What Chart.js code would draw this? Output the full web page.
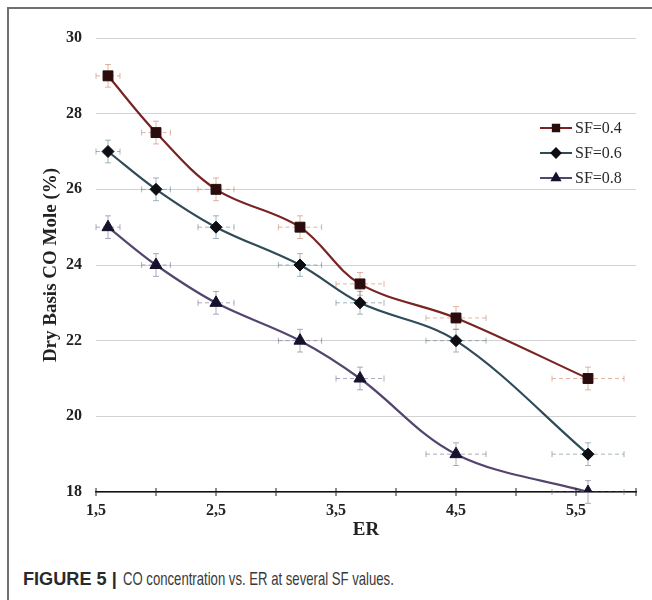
<!DOCTYPE html>
<html>
<head>
<meta charset="utf-8">
<script src="https://cdn.jsdelivr.net/npm/chart.js@4.4.1/dist/chart.umd.min.js"></script>
<style>
  html, body { margin: 0; padding: 0; background: #fff; }
  #frame {
    position: absolute; left: 7px; top: 7px; width: 660px; height: 600px;
    border-top: 2px solid #6f6f6f; border-left: 2px solid #6f6f6f;
  }
  #wrap { position: absolute; left: 0; top: 0; width: 652px; height: 545px; }
  .cap {
    position: absolute; top: 568px; white-space: nowrap;
    font-family: "Liberation Sans", Arial, sans-serif; font-size: 18.5px;
    transform-origin: left top;
  }
  #capHead { left: 23px; font-weight: bold; color: #2a2a2a; transform: scaleX(0.98); }
  #capText { left: 123px; color: #3a3a3a; transform: scaleX(0.71); }
</style>
</head>
<body>
<div id="frame"></div>
<div id="wrap"><canvas id="coChart"></canvas></div>
<div class="cap" id="capHead">FIGURE 5 |</div>
<div class="cap" id="capText">CO concentration vs. ER at several SF values.</div>

<script>
// equivalence ratio values used for each run
const er = [1.6, 2.0, 2.5, 3.2, 3.7, 4.5, 5.6];
// CO mole % (dry basis) per steam factor
const sf04 = [29, 27.5, 26, 25, 23.5, 22.6, 21];
const sf06 = [27, 26, 25, 24, 23, 22, 19];
const sf08 = [25, 24, 23, 22, 21, 19, 18];
const seriesLabels = ["SF=0.4", "SF=0.6", "SF=0.8"];
// error bar half-widths
const erErr = [0.1, 0.12, 0.15, 0.18, 0.2, 0.25, 0.3];
const coErr = 0.3;

const toPoints = ys => er.map((x, i) => ({ x: x, y: ys[i] }));

const serif = "'Liberation Serif', 'Times New Roman', serif";

// dashed horizontal + small vertical error bars under each marker
const errorBars = {
  id: "errorBars",
  beforeDatasetsDraw(chart) {
    const { ctx, scales: { x, y } } = chart;
    chart.data.datasets.forEach(ds => {
      ctx.save();
      ctx.strokeStyle = ds.errColor;
      ctx.lineWidth = 1;
      ds.data.forEach((p, i) => {
        const px = x.getPixelForValue(p.x);
        const py = y.getPixelForValue(p.y);
        const x0 = x.getPixelForValue(p.x - erErr[i]);
        const x1 = x.getPixelForValue(p.x + erErr[i]);
        const y0 = y.getPixelForValue(p.y + coErr);
        const y1 = y.getPixelForValue(p.y - coErr);
        ctx.setLineDash([4, 3]);
        ctx.beginPath();
        ctx.moveTo(x0, py); ctx.lineTo(x1, py);
        ctx.stroke();
        ctx.setLineDash([]);
        ctx.beginPath();
        ctx.moveTo(x0, py - 3); ctx.lineTo(x0, py + 3);
        ctx.moveTo(x1, py - 3); ctx.lineTo(x1, py + 3);
        ctx.moveTo(px, y0); ctx.lineTo(px, y1);
        ctx.moveTo(px - 3, y0); ctx.lineTo(px + 3, y0);
        ctx.moveTo(px - 3, y1); ctx.lineTo(px + 3, y1);
        ctx.stroke();
      });
      ctx.restore();
    });
  },
  afterDraw(chart) {
    // tick marks crossing the x axis line
    const { ctx, scales: { x }, chartArea } = chart;
    ctx.save();
    ctx.strokeStyle = "#222";
    ctx.lineWidth = 1;
    x.ticks.forEach(t => {
      const px = x.getPixelForValue(t.value);
      ctx.beginPath();
      ctx.moveTo(px, chartArea.bottom - 4);
      ctx.lineTo(px, chartArea.bottom + 4);
      ctx.stroke();
    });
    ctx.restore();
  }
};

// legend with a short line through the marker
const lineLegend = {
  id: "lineLegend",
  afterDraw(chart) {
    const ctx = chart.ctx;
    const left = 540, top = 128, step = 25;
    chart.data.datasets.forEach((ds, i) => {
      const yy = top + i * step;
      ctx.save();
      ctx.strokeStyle = ds.borderColor;
      ctx.lineWidth = 2;
      ctx.beginPath();
      ctx.moveTo(left, yy); ctx.lineTo(left + 32, yy);
      ctx.stroke();
      ctx.fillStyle = ds.pointBackgroundColor;
      ctx.strokeStyle = ds.pointBackgroundColor;
      Chart.helpers.drawPoint(ctx, {
        pointStyle: ds.pointStyle, radius: 4.5, borderWidth: 1
      }, left + 16, yy);
      ctx.fillStyle = "#2a2a2a";
      ctx.font = "16px " + serif;
      ctx.textBaseline = "middle";
      ctx.fillText(ds.label, left + 35, yy + 1);
      ctx.restore();
    });
  }
};

new Chart("coChart", {
  type: "line",
  data: {
    datasets: [
      {
        label: seriesLabels[0], data: toPoints(sf04),
        borderColor: "#7a2323", errColor: "rgba(200,120,90,0.55)",
        pointStyle: "rect", pointRadius: 7,
        pointBackgroundColor: "#2a0c0c", pointBorderColor: "#2a0c0c"
      },
      {
        label: seriesLabels[1], data: toPoints(sf06),
        borderColor: "#2f4b57", errColor: "rgba(90,120,140,0.55)",
        pointStyle: "rectRot", pointRadius: 6,
        pointBackgroundColor: "#0d0d14", pointBorderColor: "#0d0d14"
      },
      {
        label: seriesLabels[2], data: toPoints(sf08),
        borderColor: "#54456f", errColor: "rgba(110,100,140,0.55)",
        pointStyle: "triangle", pointRadius: 7,
        pointBackgroundColor: "#16122e", pointBorderColor: "#16122e"
      }
    ]
  },
  options: {
    responsive: true,
    maintainAspectRatio: false,
    animation: false,
    layout: { padding: { left: 0, right: 16, top: 38, bottom: 0 } },
    elements: {
      line: { borderWidth: 2.2, tension: 0.35, fill: false },
      point: { borderWidth: 1 }
    },
    plugins: {
      legend: { display: false },
      tooltip: { enabled: false }
    },
    scales: {
      x: {
        type: "linear",
        min: 1.5, max: 6,
        afterFit: s => { s.height = 53; },
        afterBuildTicks: s => {
          s.ticks = [];
          for (let v = 1.5; v <= 6.001; v += 0.5) s.ticks.push({ value: v });
        },
        grid: { drawOnChartArea: false, drawTicks: false },
        border: { color: "#111", width: 1.5 },
        ticks: {
          padding: 9,
          color: "#222",
          font: { family: serif, size: 16, weight: "bold" },
          callback: v => (Math.abs(v % 1 - 0.5) < 1e-6 ? v.toFixed(1).replace(".", ",") : "")
        },
        title: {
          display: true, text: "ER", color: "#222",
          font: { family: serif, size: 19, weight: "bold" },
          padding: { top: 0 }
        }
      },
      y: {
        min: 18, max: 30,
        afterFit: s => { s.width = 96; },
        grid: { color: "#d2d2d2", lineWidth: 1, drawTicks: false },
        border: { display: false },
        ticks: {
          stepSize: 2, padding: 14, color: "#222",
          font: { family: serif, size: 16, weight: "bold" }
        },
        title: {
          display: true, text: "Dry Basis CO Mole (%)", color: "#222",
          font: { family: serif, size: 19, weight: "bold" },
          padding: { top: 40, bottom: 0 }
        }
      }
    }
  },
  plugins: [errorBars, lineLegend]
});
</script>
</body>
</html>
